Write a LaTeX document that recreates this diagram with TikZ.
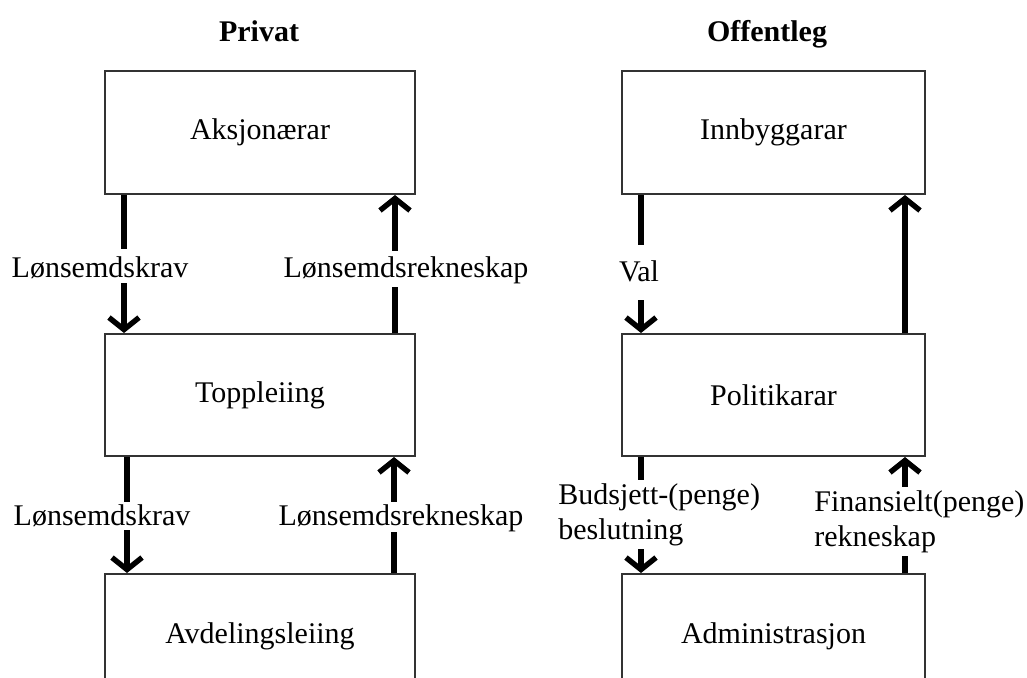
\documentclass[tikz,border=0pt]{standalone}
\usepackage{fontspec}
\setmainfont{Liberation Serif}
\usetikzlibrary{arrows.meta}
\begin{document}
\begin{tikzpicture}[x=0.5pt,y=-0.5pt,
  every node/.style={font=\fontsize{15}{17.5}\selectfont},
  box/.style={draw=black!80, line width=1pt, rectangle, inner sep=0pt, minimum height=61.5pt},
  pbox/.style={box, minimum width=155pt},
  obox/.style={box, minimum width=151.5pt},
  flow/.style={line width=2.7pt, -{Straight Barb[length=6pt,width=15pt]}},
  lab/.style={fill=white, inner xsep=1pt, inner ysep=0pt, anchor=base},
  mlab/.style={fill=white, inner xsep=1pt, inner ysep=1.5pt, anchor=north west, align=left},
  head/.style={anchor=base, font=\fontsize{15}{17.5}\selectfont\bfseries}]
\useasboundingbox (0,0) rectangle (1027,677);
\clip (0,0) rectangle (1027,677);

% column headings
\node[head] (hp) at (259,41) {Privat};
\node[head] (ho) at (767,41) {Offentleg};

% private sector chain
\node[pbox] (aks) at (260,132.5) {Aksjonærar};
\node[pbox, minimum height=61pt] (top) at (260,395) {Toppleiing};
\node[pbox, minimum height=62pt] (avd) at (260,636) {Avdelingsleiing};

% public sector chain
\node[obox] (inn) at (773.5,132.5) {Innbyggarar};
\node[obox, minimum height=61pt] (pol) at (773.5,395) {Politikarar};
\node[obox, minimum height=62pt] (adm) at (773.5,636) {Administrasjon};

% flows, private
\draw[flow] ([xshift=10pt]aks.south west) -- ([xshift=10pt]top.north west);
\draw[flow] ([xshift=-10.5pt]top.north east) -- ([xshift=-10.5pt]aks.south east);
\draw[flow] ([xshift=11.5pt]top.south west) -- ([xshift=11.5pt]avd.north west);
\draw[flow] ([xshift=-11pt]avd.north east) -- ([xshift=-11pt]top.south east);

% flows, public
\draw[flow] ([xshift=10pt]inn.south west) -- ([xshift=10pt]pol.north west);
\draw[flow] ([xshift=-10.5pt]pol.north east) -- ([xshift=-10.5pt]inn.south east);
\draw[flow] ([xshift=10pt]pol.south west) -- ([xshift=10pt]adm.north west);
\draw[flow] ([xshift=-10.5pt]adm.north east) -- ([xshift=-10.5pt]pol.south east);

% labels over the flows
\node[lab, text height=14pt, text depth=3pt] (l1) at (100,277) {Lønsemdskrav};
\node[lab, text height=13pt, text depth=5pt] (r1) at (406,277) {Lønsemdsrekneskap};
\node[lab, text height=11.5pt, text depth=2.5pt] (l2) at (102,525) {Lønsemdskrav};
\node[lab, text height=11.5pt, text depth=3.5pt] (r2) at (401,525) {Lønsemdsrekneskap};
\node[lab, text height=18pt, text depth=9.5pt] (val) at (639,281) {Val};
\node[mlab] (bud) at (556,480) {Budsjett-(penge)\\beslutning};
\node[mlab] (fin) at (812,487) {Finansielt(penge)\\rekneskap};
\end{tikzpicture}
\end{document}
